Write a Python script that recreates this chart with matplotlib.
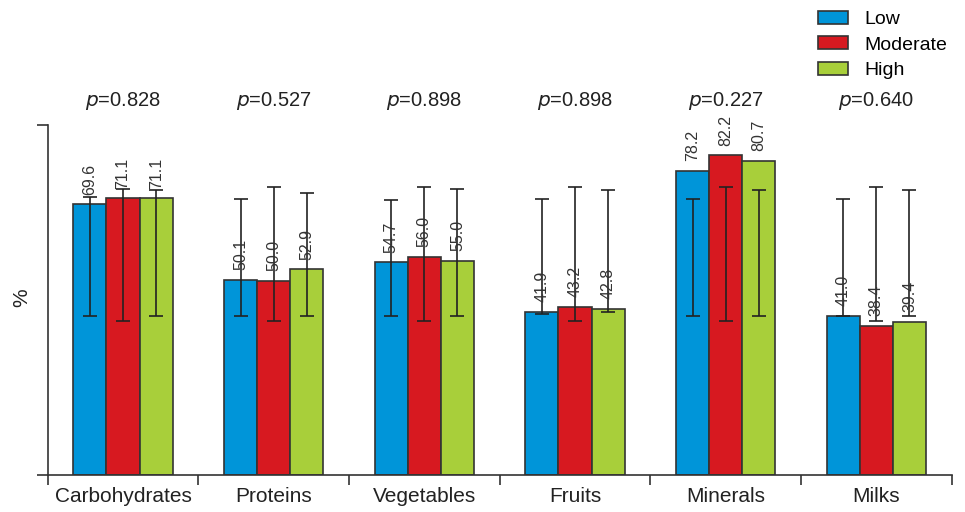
import numpy as np
import matplotlib
matplotlib.use("Agg")
import matplotlib.pyplot as plt
from matplotlib.transforms import blended_transform_factory

plt.rcParams['font.family'] = ['Liberation Sans', 'DejaVu Sans']

categories = ['Carbohydrates', 'Proteins', 'Vegetables', 'Fruits', 'Minerals', 'Milks']
groups = ['Low', 'Moderate', 'High']
p_values = ['0.828', '0.527', '0.898', '0.898', '0.227', '0.640']

low = [69.6, 50.1, 54.7, 41.9, 78.2, 41.0]
moderate = [71.1, 50.0, 56.0, 43.2, 82.2, 38.4]
high = [71.1, 52.9, 55.0, 42.8, 80.7, 39.4]

# error bar ends (absolute values)
low_upper = [71.5, 71.0, 70.8, 71.0, 71.0, 71.0]
low_lower = [40.8, 40.8, 40.8, 41.5, 40.8, 40.8]
mod_upper = [73.6, 74.1, 74.1, 74.1, 74.1, 74.1]
mod_lower = [39.7, 39.7, 39.7, 39.7, 39.7, 39.7]
high_upper = [73.3, 72.6, 73.6, 73.3, 73.3, 73.3]
high_lower = [41.0, 41.0, 41.0, 41.8, 41.0, 41.0]

colors = ['#0095D9', '#D71920', '#A8CF3A']
series = [low, moderate, high]
uppers = [low_upper, mod_upper, high_upper]
lowers = [low_lower, mod_lower, high_lower]

fig = plt.figure(figsize=(9.65, 5.12), dpi=100)
ax = fig.add_axes([0.0494, 0.0723, 0.9368, 0.6836])

x = np.arange(len(categories))
w = 0.22
edge = '#333333'

for k, (vals, up, lo, c, name) in enumerate(zip(series, uppers, lowers, colors, groups)):
    xs = x + (k - 1) * w
    vals = np.array(vals)
    up = np.array(up)
    lo = np.array(lo)
    ax.bar(xs, vals, width=w, color=c, edgecolor=edge, linewidth=1.2, label=name, zorder=2)
    # whiskers are not centred on the bar tops, so draw them around their midpoint
    ax.errorbar(xs, (up + lo) / 2, yerr=(up - lo) / 2, fmt='none', ecolor='#222222',
                elinewidth=1.2, capsize=5, capthick=1.2, zorder=3)
    for xi, v in zip(xs, vals):
        ax.annotate(f'{v:.1f}', (xi, v), xytext=(0, 7), textcoords='offset points',
                    rotation=90, ha='center', va='bottom', fontsize=11.5,
                    color='#333333', zorder=4)

trans = blended_transform_factory(ax.transData, ax.transAxes)
for xi, p in zip(x, p_values):
    ax.text(xi, 1.069, r'$\it{p}$' + '=' + p, transform=trans, ha='center', va='center',
            fontsize=14.5, color='#222222')

ax.set_xlim(-0.5, len(categories) - 0.5)
ax.set_ylim(0, 90)
ax.set_yticks([0, 90])
ax.set_yticklabels([])
ax.tick_params(axis='y', direction='out', length=8, width=1.2, color='#333333')
ax.set_xticks(np.arange(len(categories) + 1) - 0.5)
ax.set_xticklabels([])
ax.set_xticks(x, minor=True)
ax.set_xticklabels(categories, minor=True, fontsize=15, color='#222222')
ax.tick_params(axis='x', which='major', direction='out', length=7, width=1.2, color='#333333')
ax.tick_params(axis='x', which='minor', length=0, pad=9)
ax.spines['top'].set_visible(False)
ax.spines['right'].set_visible(False)
for s in ['left', 'bottom']:
    ax.spines[s].set_linewidth(1.2)
    ax.spines[s].set_color('#333333')
fig.text(22 / 965, 1 - 298 / 512, '%', rotation=90, ha='center', va='center',
         fontsize=15, color='#222222')

fig.legend(loc='upper left', bbox_to_anchor=(818 / 965, 1 - 11 / 512), frameon=False,
           fontsize=14, handlelength=1.55, handleheight=0.65, labelspacing=0.42,
           handletextpad=0.85, borderaxespad=0, borderpad=0)

fig.savefig('out.png', dpi=100)
